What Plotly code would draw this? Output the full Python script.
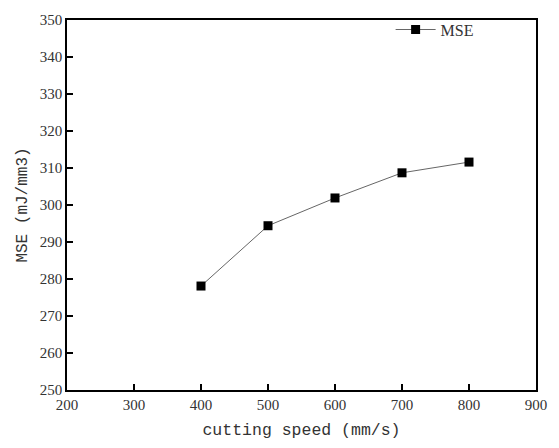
import plotly.graph_objects as go

speed = [400, 500, 600, 700, 800]
mse = [278.1, 294.4, 301.9, 308.7, 311.6]
x_ticks = [200, 300, 400, 500, 600, 700, 800, 900]
y_ticks = [250, 260, 270, 280, 290, 300, 310, 320, 330, 340, 350]

fig = go.Figure()
fig.add_trace(go.Scatter(
    x=speed, y=mse, mode="lines+markers", name="MSE",
    line=dict(color="#666666", width=1),
    marker=dict(symbol="square", size=9, color="black"),
))

axis_common = dict(
    showline=True, linecolor="black", linewidth=1.5, mirror=True,
    ticks="inside", ticklen=6, tickwidth=1.5, tickcolor="black",
    showgrid=False, zeroline=False,
    tickfont=dict(family="Liberation Serif", size=15, color="#333333"),
)

fig.update_layout(
    width=559, height=448,
    margin=dict(l=67, r=18, t=12, b=56),
    paper_bgcolor="white", plot_bgcolor="white",
    xaxis=dict(range=[200, 900], tickvals=x_ticks,
               title=dict(text="cutting speed (mm/s)", standoff=12,
                          font=dict(family="Liberation Mono", size=16.5, color="#333333")),
               **axis_common),
    yaxis=dict(range=[250, 350], tickvals=y_ticks,
               title=dict(text="MSE (mJ/mm3)", standoff=8,
                          font=dict(family="Liberation Mono", size=16, color="#333333")),
               **axis_common),
    showlegend=True,
    legend=dict(x=0.69, y=1.02, xanchor="left", yanchor="top",
                bgcolor="rgba(0,0,0,0)", borderwidth=0,
                font=dict(family="Liberation Serif", size=16, color="#333333"),
                itemwidth=40),
)

fig.write_html("out.html")
